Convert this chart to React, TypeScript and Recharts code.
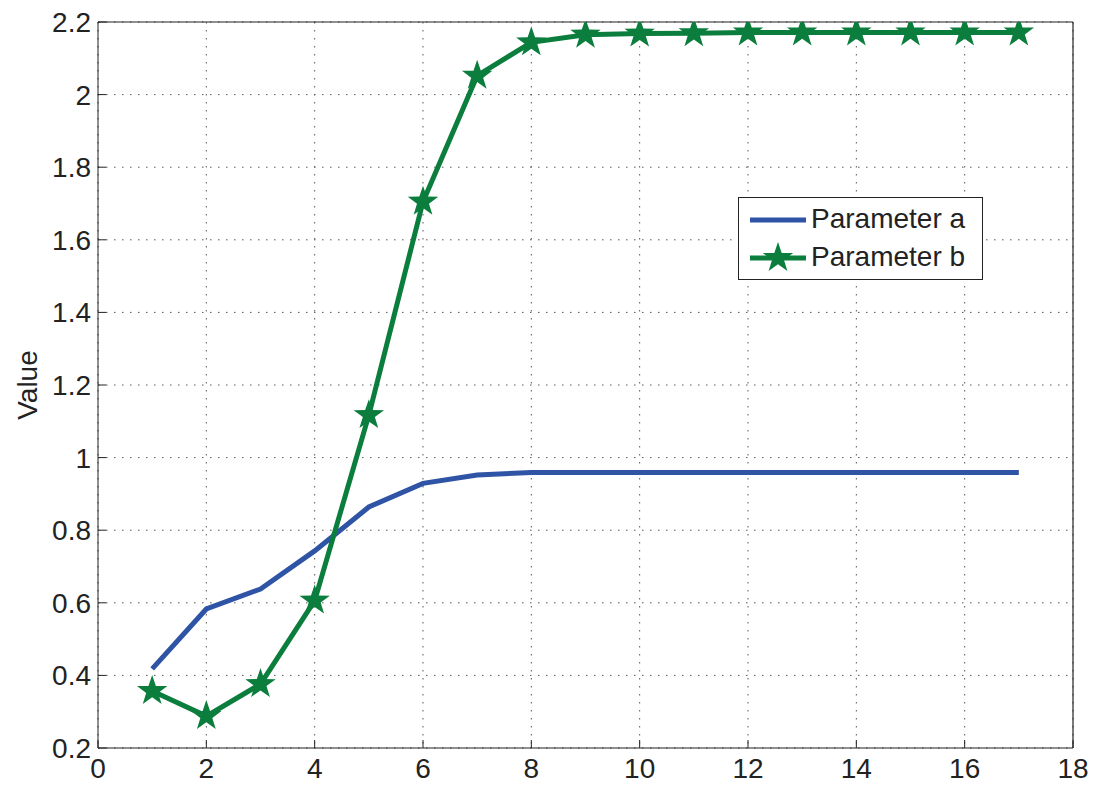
import React from "react";
import {
  LineChart,
  Line,
  XAxis,
  YAxis,
  CartesianGrid,
  Legend,
  ReferenceLine,
} from "recharts";

const xValues = [1, 2, 3, 4, 5, 6, 7, 8, 9, 10, 11, 12, 13, 14, 15, 16, 17];
const paramA = [0.418, 0.583, 0.638, 0.743, 0.864, 0.929, 0.952, 0.959, 0.959, 0.959, 0.959, 0.959, 0.959, 0.959, 0.959, 0.959, 0.959];
const paramB = [0.357, 0.288, 0.376, 0.606, 1.117, 1.705, 2.052, 2.144, 2.165, 2.168, 2.169, 2.171, 2.171, 2.171, 2.171, 2.171, 2.171];
const xTicks = [0, 2, 4, 6, 8, 10, 12, 14, 16, 18];
const yTicks = [0.2, 0.4, 0.6, 0.8, 1, 1.2, 1.4, 1.6, 1.8, 2, 2.2];

const BLUE = "#2f54a5";
const GREEN = "#0b7e3d";
const FONT = "'Liberation Sans', Arial, sans-serif";

const data = xValues.map((x, i) => ({ x, a: paramA[i], b: paramB[i] }));

const fmt = (v: number) => String(Number(v.toFixed(1)));

function starPoints(cx: number, cy: number, R: number, r: number) {
  const pts: string[] = [];
  for (let i = 0; i < 10; i++) {
    const rad = i % 2 === 0 ? R : r;
    const ang = -Math.PI / 2 + (i * Math.PI) / 5;
    pts.push(`${cx + rad * Math.cos(ang)},${cy + rad * Math.sin(ang)}`);
  }
  return pts.join(" ");
}

const StarDot = (props: any) => {
  const { cx, cy, index } = props;
  if (cx == null || cy == null) return null;
  return <polygon key={`star-${index}`} points={starPoints(cx, cy, 16, 6.3)} fill={GREEN} />;
};

const LegendBox = () => (
  <div
    style={{
      width: 245,
      height: 83,
      border: "1.5px solid #222",
      background: "#fff",
      fontFamily: FONT,
      fontSize: 28,
      color: "#222",
      position: "relative",
      boxSizing: "border-box",
    }}
  >
    <svg width={60} height={80} style={{ position: "absolute", left: 9, top: 0 }}>
      <line x1={2} x2={58} y1={22} y2={22} stroke={BLUE} strokeWidth={5} />
      <line x1={2} x2={58} y1={60} y2={60} stroke={GREEN} strokeWidth={5} />
      <polygon points={starPoints(30, 60, 16, 6.3)} fill={GREEN} />
    </svg>
    <div style={{ position: "absolute", left: 72, top: 6, lineHeight: "30px" }}>Parameter a</div>
    <div style={{ position: "absolute", left: 72, top: 44, lineHeight: "30px" }}>Parameter b</div>
  </div>
);

const YLabel = (props: any) => {
  const vb = props.viewBox || {};
  const x = 30;
  const y = (vb.y || 0) + (vb.height || 0) / 2;
  return (
    <text
      x={x}
      y={y}
      transform={`rotate(-90, ${x}, ${y})`}
      textAnchor="middle"
      dominantBaseline="middle"
      fontFamily={FONT}
      fontSize={28}
      fill="#222"
    >
      Value
    </text>
  );
};

const tickStyle = { fontFamily: FONT, fontSize: 28, fill: "#222" };

export default function App() {
  return (
    <div style={{ position: "absolute", left: 0, top: 0, background: "#fff" }}>
      <LineChart
        width={1096}
        height={789}
        data={data}
        margin={{ top: 22, right: 23, bottom: 0, left: 0 }}
      >
        <CartesianGrid
          xAxisId="b"
          yAxisId="l"
          stroke="#555"
          strokeDasharray="1.5 6.5"
          strokeWidth={1}
        />
        <XAxis
          xAxisId="b"
          dataKey="x"
          type="number"
          domain={[0, 18]}
          ticks={xTicks}
          interval={0}
          height={41}
          tick={tickStyle}
          tickLine={{ stroke: "#222" }}
          tickSize={-8}
          tickMargin={18}
          stroke="#222"
          allowDataOverflow
        />
        <YAxis
          yAxisId="l"
          type="number"
          domain={[0.2, 2.2]}
          ticks={yTicks}
          interval={0}
          width={98}
          tick={tickStyle}
          tickLine={{ stroke: "#222" }}
          tickFormatter={fmt}
          tickSize={-8}
          tickMargin={15}
          stroke="#222"
          label={<YLabel />}
          allowDataOverflow
        />
        <ReferenceLine xAxisId="b" yAxisId="l" y={2.2} stroke="#222" strokeWidth={1.2} />
        <ReferenceLine xAxisId="b" yAxisId="l" x={18} stroke="#222" strokeWidth={1.2} />
        <Legend
          layout="horizontal"
          verticalAlign="middle"
          align="center"
          content={<LegendBox />}
          wrapperStyle={{ position: "absolute", left: 738, top: 197, width: 245, height: 83 }}
        />
        <Line
          xAxisId="b"
          yAxisId="l"
          dataKey="a"
          name="Parameter a"
          stroke={BLUE}
          strokeWidth={5}
          dot={false}
          activeDot={false}
          isAnimationActive={false}
        />
        <Line
          xAxisId="b"
          yAxisId="l"
          dataKey="b"
          name="Parameter b"
          stroke={GREEN}
          strokeWidth={5}
          dot={<StarDot />}
          activeDot={false}
          isAnimationActive={false}
        />
      </LineChart>
    </div>
  );
}
